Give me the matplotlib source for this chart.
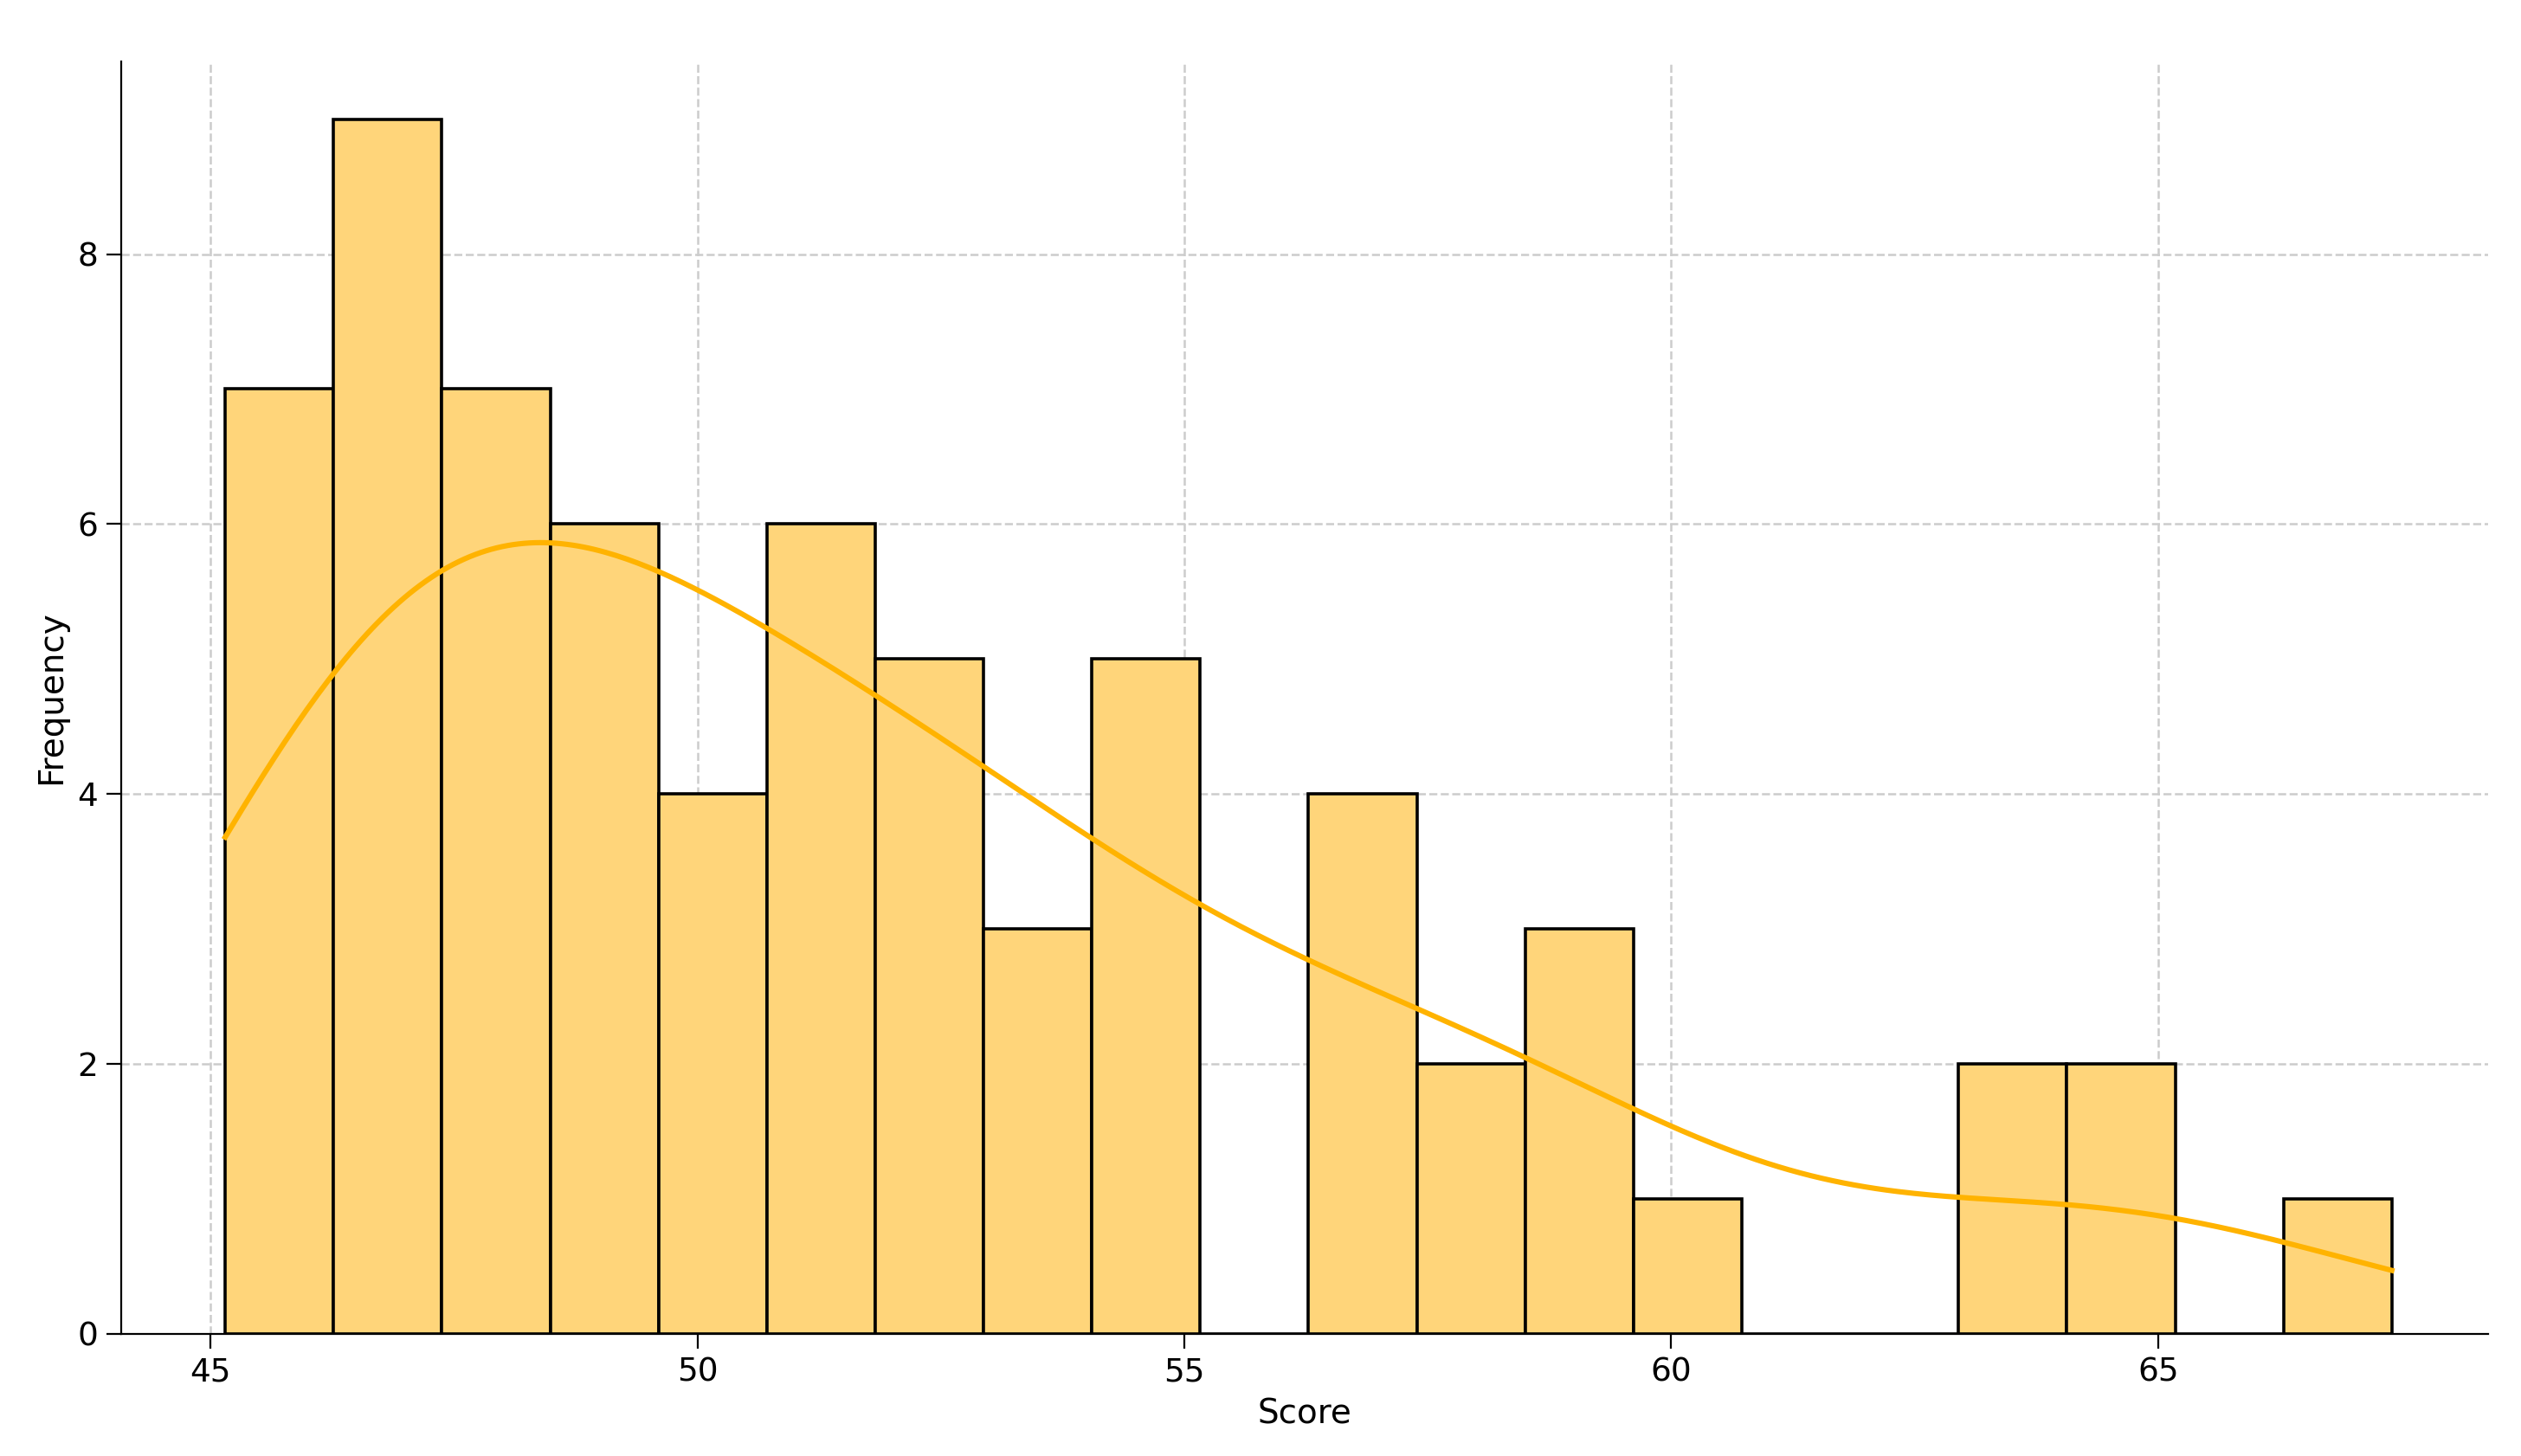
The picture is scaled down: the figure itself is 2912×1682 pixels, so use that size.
import numpy as np
import matplotlib
matplotlib.use("Agg")
import matplotlib.pyplot as plt

bin_start = 45.15
bin_end = 67.4
counts = [7, 9, 7, 6, 4, 6, 5, 3, 5, 0, 4, 2, 3, 1, 0, 0, 2, 2, 0, 1]
xlabel = "Score"
ylabel = "Frequency"

edges = np.linspace(bin_start, bin_end, len(counts) + 1)
centers = (edges[:-1] + edges[1:]) / 2
width = edges[1] - edges[0]

fig = plt.figure(figsize=(14.56, 8.41), dpi=200)
ax = fig.add_axes([0.048, 0.084, 0.939, 0.874])
ax.bar(edges[:-1], counts, width=width, align="edge", color="#FFD57A",
       edgecolor="black", linewidth=1.3, zorder=2)

# KDE from binned data
data = np.repeat(centers, counts)
n = len(data)
bw = data.std(ddof=1) * n ** (-1 / 5)
xs = np.linspace(data.min() - width / 2, data.max() + width / 2, 400)
dens = np.exp(-0.5 * ((xs[:, None] - data[None, :]) / bw) ** 2).sum(1) / (n * bw * np.sqrt(2 * np.pi))
ax.plot(xs, dens * n * width, color="#FFB300", linewidth=2.2, zorder=3)

ax.set_xlim(44.08, 68.39)
ax.set_ylim(0, 9.43)
ax.set_xticks([45, 50, 55, 60, 65])
ax.set_yticks([0, 2, 4, 6, 8])
ax.grid(True, linestyle="--", color="#cccccc", linewidth=0.9, zorder=0)
ax.set_axisbelow(True)
for s in ["top", "right"]:
    ax.spines[s].set_visible(False)
ax.tick_params(labelsize=13.5, length=6)
ax.set_xlabel(xlabel, fontsize=14)
ax.set_ylabel(ylabel, fontsize=14)
fig.savefig("out.png", dpi=200)
